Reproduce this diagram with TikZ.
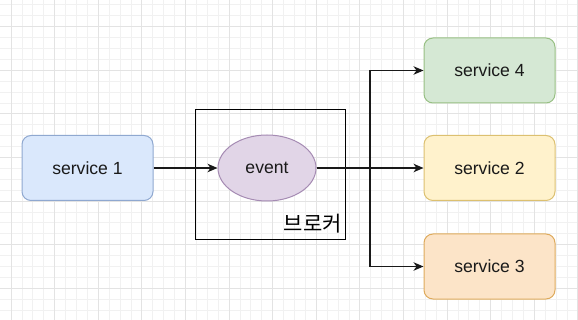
\documentclass[tikz,border=0pt]{standalone}
\usepackage{fontspec}
\setmainfont{Liberation Sans}
\newfontfamily\krfont{Noto Sans CJK KR}
\usetikzlibrary{arrows.meta,shapes.geometric}
\definecolor{gminor}{HTML}{F1F1F1}
\definecolor{gmajor}{HTML}{E3E3E3}
\definecolor{bfill}{HTML}{DAE8FC}\definecolor{bdraw}{HTML}{8FA8D0}
\definecolor{pfill}{HTML}{E1D5E7}\definecolor{pdraw}{HTML}{A58BB3}
\definecolor{gfill}{HTML}{D5E8D4}\definecolor{gdraw}{HTML}{98C084}
\definecolor{yfill}{HTML}{FFF2CC}\definecolor{ydraw}{HTML}{DCC070}
\definecolor{ofill}{HTML}{FCE4C8}\definecolor{odraw}{HTML}{DEAA5C}
\definecolor{txt}{HTML}{1A1A1A}
\begin{document}
\begin{tikzpicture}[x=1pt,y=-1pt,
  svc/.style={draw, rounded corners=9pt, minimum width=131pt, minimum height=65pt,
    inner sep=0pt, line width=1pt, text=txt, font=\fontsize{17.6}{20}\selectfont},
  ev/.style={ellipse, draw=pdraw, fill=pfill, minimum width=98pt, minimum height=66pt,
    inner sep=0pt, line width=1pt, text=txt, font=\fontsize{17.6}{20}\selectfont},
  conn/.style={draw=black!90, line width=1.1pt, -{Stealth[length=10pt,width=8.5pt,inset=3pt]}}
]
\useasboundingbox (0,0) rectangle (578,320);
\fill[white] (0,0) rectangle (578,320);
% grid
\foreach \i in {0,...,52} {
  \pgfmathsetmacro\xx{11+10.9*\i}
  \draw[gminor, line width=0.8pt] (\xx,0) -- (\xx,320);
}
\foreach \i in {0,...,29} {
  \pgfmathsetmacro\yy{4.9+10.9*\i}
  \draw[gminor, line width=0.8pt] (0,\yy) -- (578,\yy);
}
\foreach \i in {0,...,13} {
  \pgfmathsetmacro\xx{11+43.6*\i}
  \draw[gmajor, line width=0.9pt] (\xx,0) -- (\xx,320);
}
\foreach \i in {0,...,7} {
  \pgfmathsetmacro\yy{26.7+43.6*\i}
  \draw[gmajor, line width=0.9pt] (0,\yy) -- (578,\yy);
}
% broker box
\draw[black, line width=1pt] (195,110) rectangle (345,240);
\node[anchor=east, text=black, font=\krfont\fontsize{21}{24}\selectfont, inner sep=0pt] (broker) at (342,224) {브로커};
% nodes
\node[svc, draw=bdraw, fill=bfill] (s1) at (87.5,168) {service 1};
\node[ev] (ev) at (267,168) {event};
\node[svc, draw=gdraw, fill=gfill] (s4) at (489.5,70.5) {service 4};
\node[svc, draw=ydraw, fill=yfill] (s2) at (489.5,168) {service 2};
\node[svc, draw=odraw, fill=ofill] (s3) at (489.5,266.5) {service 3};
\coordinate (split) at (370,168);
% connectors
\draw[conn] (s1.east) -- (ev.west);
\draw[conn] (ev.east) -- (s2.west);
\draw[conn] (ev.east) -- (split) |- (s4.west);
\draw[conn] (ev.east) -- (split) |- (s3.west);
\end{tikzpicture}
\end{document}
